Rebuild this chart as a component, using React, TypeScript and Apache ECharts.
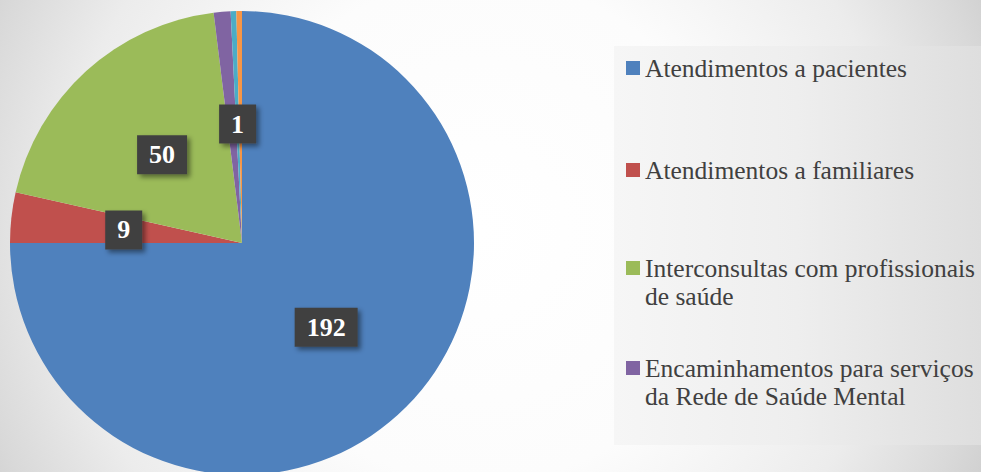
import React, { useEffect, useRef } from "react";
import * as echarts from "echarts";

const categories = [
  "Atendimentos a pacientes",
  "Atendimentos a familiares",
  "Interconsultas com profissionais de saúde",
  "Encaminhamentos para serviços da Rede de Saúde Mental",
  "Categoria 5",
  "Categoria 6",
];
const values = [192, 9, 50, 3, 1, 1];
const showValueLabel = [true, true, true, false, true, false];
const sliceColors = ["#4F81BD", "#C0504D", "#9BBB59", "#8064A2", "#4BACC6", "#F79646"];
const legendLabels = [
  "Atendimentos a pacientes",
  "Atendimentos a familiares",
  "Interconsultas com profissionais\nde saúde",
  "Encaminhamentos para serviços\nda Rede de Saúde Mental",
];
const legendIconCenters = [68, 170, 268, 368];

const SERIF = "'Liberation Serif', 'DejaVu Serif', serif";

export default function App() {
  const ref = useRef<HTMLDivElement>(null);
  useEffect(() => {
    document.body.style.margin = "0";
    if (!ref.current) return;
    const chart = echarts.init(ref.current, undefined, { renderer: "svg" });
    const LH = 28;
    const legends = legendLabels.map((lab, i) => {
      const twoLine = lab.indexOf("\n") >= 0;
      const text = twoLine ? "\n" + lab : lab;
      return {
        orient: "vertical",
        left: 626,
        top: legendIconCenters[i] - (twoLine ? 1.5 * LH : 0.5 * LH),
        padding: 0,
        itemWidth: 14,
        itemHeight: 14,
        icon: "rect",
        selectedMode: false,
        data: [categories[i]],
        formatter: () => text,
        textStyle: {
          fontFamily: SERIF,
          fontSize: 25.5,
          color: "#404040",
          lineHeight: LH,
        },
      };
    });
    chart.setOption({
      animation: false,
      graphic: [
        {
          type: "rect",
          z: -10,
          silent: true,
          shape: { x: 0, y: 0, width: 981, height: 472 },
          style: {
            fill: new echarts.graphic.RadialGradient(
              480,
              230,
              560,
              [
                { offset: 0, color: "#ffffff" },
                { offset: 0.45, color: "#fcfcfc" },
                { offset: 0.75, color: "#ececec" },
                { offset: 0.93, color: "#d9d9d9" },
                { offset: 1, color: "#d0d0d0" },
              ],
              true
            ),
          },
        },
        {
          type: "rect",
          z: -5,
          silent: true,
          shape: { x: 614, y: 46, width: 367, height: 399 },
          style: {
            fill: new echarts.graphic.LinearGradient(0, 0, 1, 0, [
              { offset: 0, color: "#f6f6f6" },
              { offset: 0.5, color: "#eeeeee" },
              { offset: 1, color: "#dedede" },
            ]),
          },
        },
      ],
      legend: legends,
      series: [
        {
          type: "pie",
          center: [242, 243],
          radius: 232,
          startAngle: 90,
          clockwise: true,
          avoidLabelOverlap: false,
          emphasis: { disabled: true },
          labelLine: { show: false },
          itemStyle: { borderWidth: 0 },
          label: {
            show: true,
            position: "inside",
            formatter: "{c}",
            fontFamily: SERIF,
            fontWeight: "bold",
            fontSize: 26,
            lineHeight: 27,
            color: "#ffffff",
            backgroundColor: "#404040",
            padding: [6, 12, 6, 12],
            shadowColor: "rgba(0,0,0,0.45)",
            shadowBlur: 5,
            shadowOffsetX: 3,
            shadowOffsetY: 3,
          },
          data: categories.map((name, i) => ({
            name,
            value: values[i],
            itemStyle: { color: sliceColors[i] },
            label: { show: showValueLabel[i] },
          })),
        },
      ],
    });
    return () => chart.dispose();
  }, []);
  return <div ref={ref} style={{ width: 981, height: 472 }} />;
}
